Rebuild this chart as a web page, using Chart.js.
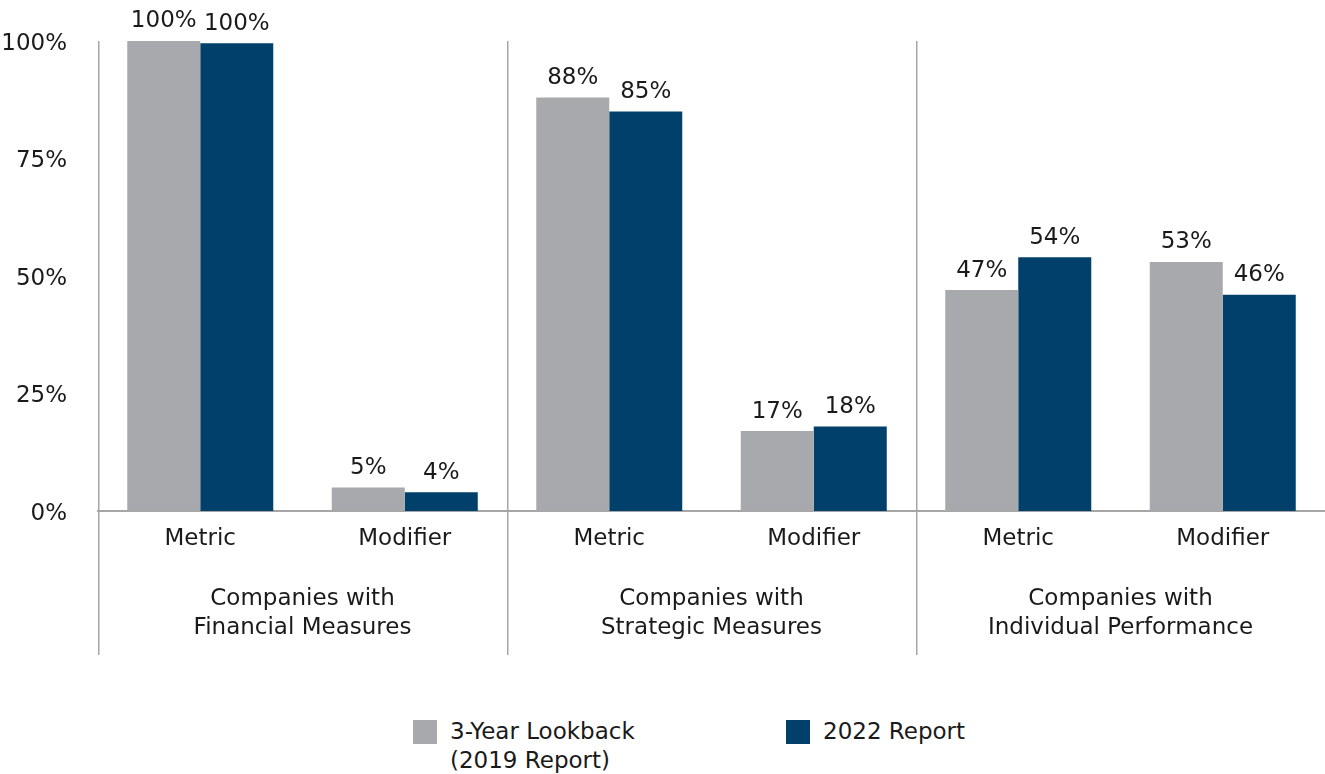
<!DOCTYPE html>
<html>
<head>
<meta charset="utf-8">
<script src="https://cdn.jsdelivr.net/npm/chart.js@4.4.0/dist/chart.umd.min.js"></script>
<style>
  body { margin: 0; background: #fff; font-family: "DejaVu Sans", sans-serif; color: #1a1a1a; }
  #wrap { position: relative; width: 1325px; height: 774px; }
  #grafico { position: absolute; left: 0; top: 0; }
  #leyenda { position: absolute; top: 719px; left: 0; width: 1325px; font-size: 23px; line-height: 29px; }
  .item { position: absolute; top: 0; }
  .caja { position: absolute; left: 0; top: 1px; width: 24px; height: 24px; }
  .txt { position: absolute; left: 37px; top: -2px; white-space: nowrap; }
</style>
</head>
<body>
<div id="wrap">
  <canvas id="grafico" width="1325" height="700"></canvas>
  <div id="leyenda"></div>
</div>
<script>
const categorias = ["Metric", "Modifier", "Metric", "Modifier", "Metric", "Modifier"]
const grupos = [
    ["Companies with", "Financial Measures"],
    ["Companies with", "Strategic Measures"],
    ["Companies with", "Individual Performance"]
]
const lookback2019 = [100, 5, 88, 17, 47, 53]
const reporte2022 = [99.5, 4, 85, 18, 54, 46]
const nombres = [["3-Year Lookback", "(2019 Report)"], ["2022 Report"]]
const colores = ["#a7a9ac", "#00406a"]
const ticksY = [0, 25, 50, 75, 100]

const gris = "#a6a6a6"
const fuente = { family: "DejaVu Sans", size: 23 }

// etiquetas de valor encima de cada barra
const etiquetas = {
    id: "etiquetas",
    afterDatasetsDraw(chart) {
        const ctx = chart.ctx
        ctx.save()
        ctx.font = "23px 'DejaVu Sans'"
        ctx.fillStyle = "#1a1a1a"
        ctx.textAlign = "center"
        ctx.textBaseline = "bottom"
        chart.data.datasets.forEach((ds, i) => {
            chart.getDatasetMeta(i).data.forEach((bar, j) => {
                ctx.fillText(Math.round(ds.data[j]) + "%", bar.x, bar.y - 8)
            })
        })
        ctx.restore()
    }
}

// lineas que separan los grupos
const separadores = {
    id: "separadores",
    afterDraw(chart) {
        const x = chart.scales.x
        const x2 = chart.scales.x2
        const area = chart.chartArea
        const ctx = chart.ctx
        const medio = (x.getPixelForValue(1) - x.getPixelForValue(0)) / 2
        ctx.save()
        ctx.strokeStyle = gris
        ctx.lineWidth = 1.5
        for (let g = 0; g < grupos.length; g++) {
            const px = Math.round(x.getPixelForValue(g * 2) - medio) + 0.75
            ctx.beginPath()
            ctx.moveTo(px, area.top)
            ctx.lineTo(px, x2.bottom)
            ctx.stroke()
        }
        ctx.restore()
    }
}

let grafico = document.getElementById("grafico")

let miGrafico = new Chart(grafico, {
    type: "bar",
    data: {
        labels: categorias,
        datasets: [
            { label: nombres[0].join(" "), data: lookback2019, backgroundColor: colores[0] },
            { label: nombres[1].join(" "), data: reporte2022, backgroundColor: colores[1] }
        ]
    },
    options: {
        responsive: false,
        animation: false,
        categoryPercentage: 0.714,
        barPercentage: 1,
        layout: { padding: { top: 41, right: 0, bottom: 45, left: 0 } },
        plugins: { legend: { display: false }, tooltip: { enabled: false } },
        scales: {
            y: {
                min: 0,
                max: 100,
                afterFit: s => { s.width = 98 },
                afterBuildTicks: s => { s.ticks = ticksY.map(v => ({ value: v })) },
                grid: { display: false },
                border: { display: false },
                ticks: { font: fuente, color: "#1a1a1a", padding: 23, labelOffset: 3, callback: v => v + "%" }
            },
            x: {
                weight: 0,
                afterFit: s => { s.height = 42 },
                grid: { display: false, drawTicks: false },
                border: { display: true, color: gris, width: 2 },
                ticks: { font: { ...fuente, lineHeight: 1.2 }, color: "#1a1a1a", padding: 14, maxRotation: 0 }
            },
            x2: {
                type: "category",
                position: "bottom",
                weight: 1,
                labels: grupos,
                offset: true,
                afterFit: s => { s.height = 102 },
                grid: { display: false, drawTicks: false },
                border: { display: false },
                ticks: { font: { ...fuente, lineHeight: 1.27 }, color: "#1a1a1a", padding: 31, maxRotation: 0 }
            }
        }
    },
    plugins: [etiquetas, separadores]
})

// leyenda en html
let leyenda = document.getElementById("leyenda")
const posiciones = [413, 786]
nombres.forEach((n, i) => {
    let item = document.createElement("div")
    item.className = "item"
    item.style.left = posiciones[i] + "px"
    let caja = document.createElement("div")
    caja.className = "caja"
    caja.style.background = colores[i]
    let txt = document.createElement("div")
    txt.className = "txt"
    txt.innerHTML = n.join("<br>")
    item.appendChild(caja)
    item.appendChild(txt)
    leyenda.appendChild(item)
})
</script>
</body>
</html>
